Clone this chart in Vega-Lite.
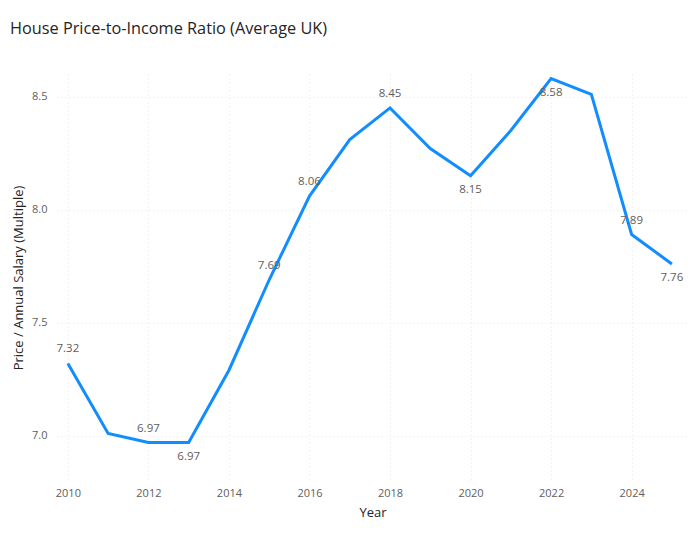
{
  "$schema": "https://vega.github.io/schema/vega-lite/v6.json",
  "width": 631,
  "height": 407,
  "autosize": {"type": "none"},
  "padding": {"left": 57, "top": 74, "right": 8, "bottom": 60},
  "background": "white",
  "title": {
    "text": "House Price-to-Income Ratio (Average UK)",
    "anchor": "start",
    "frame": "group",
    "dx": -47,
    "offset": 35,
    "font": "Open Sans",
    "fontSize": 16.3,
    "fontWeight": "normal",
    "color": "#252423"
  },
  "config": {
    "view": {"stroke": null},
    "axis": {
      "labelFont": "Open Sans",
      "labelFontSize": 11,
      "labelColor": "#605E5C",
      "titleFont": "Open Sans",
      "titleFontSize": 13,
      "titleFontWeight": "normal",
      "titleColor": "#252423",
      "domain": false,
      "ticks": false,
      "gridColor": "#E6E6E6",
      "gridDash": [1, 3],
      "gridWidth": 1
    }
  },
  "data": {
    "values": [
      {"year": 2010, "ratio": 7.32},
      {"year": 2011, "ratio": 7.01},
      {"year": 2012, "ratio": 6.97},
      {"year": 2013, "ratio": 6.97},
      {"year": 2014, "ratio": 7.29},
      {"year": 2015, "ratio": 7.69},
      {"year": 2016, "ratio": 8.06},
      {"year": 2017, "ratio": 8.31},
      {"year": 2018, "ratio": 8.45},
      {"year": 2019, "ratio": 8.27},
      {"year": 2020, "ratio": 8.15},
      {"year": 2021, "ratio": 8.35},
      {"year": 2022, "ratio": 8.58},
      {"year": 2023, "ratio": 8.51},
      {"year": 2024, "ratio": 7.89},
      {"year": 2025, "ratio": 7.76}
    ]
  },
  "encoding": {
    "x": {
      "field": "year",
      "type": "quantitative",
      "scale": {"domain": [2009.73, 2025.4], "nice": false, "zero": false},
      "axis": {
        "values": [2010, 2012, 2014, 2016, 2018, 2020, 2022, 2024],
        "format": "d",
        "title": "Year",
        "labelPadding": 6,
        "titlePadding": 8
      }
    },
    "y": {
      "field": "ratio",
      "type": "quantitative",
      "scale": {"domain": [6.8, 8.6], "nice": false, "zero": false},
      "axis": {
        "values": [7.0, 7.5, 8.0, 8.5],
        "format": ".1f",
        "title": "Price / Annual Salary (Multiple)",
        "labelPadding": 10,
        "titlePadding": 6
      }
    }
  },
  "layer": [
    {
      "mark": {"type": "line", "color": "#118DFF", "strokeWidth": 3, "strokeJoin": "miter"}
    },
    {
      "transform": [{"filter": {"field": "year", "oneOf": [2010, 2012, 2015, 2016, 2018, 2024]}}],
      "mark": {"type": "text", "dy": -14, "font": "Open Sans", "fontSize": 11.5, "color": "#605E5C"},
      "encoding": {"text": {"field": "ratio", "type": "quantitative", "format": ".2f"}}
    },
    {
      "transform": [{"filter": {"field": "year", "oneOf": [2013, 2020, 2022, 2025]}}],
      "mark": {"type": "text", "dy": 14, "font": "Open Sans", "fontSize": 11.5, "color": "#605E5C"},
      "encoding": {"text": {"field": "ratio", "type": "quantitative", "format": ".2f"}}
    }
  ]
}
